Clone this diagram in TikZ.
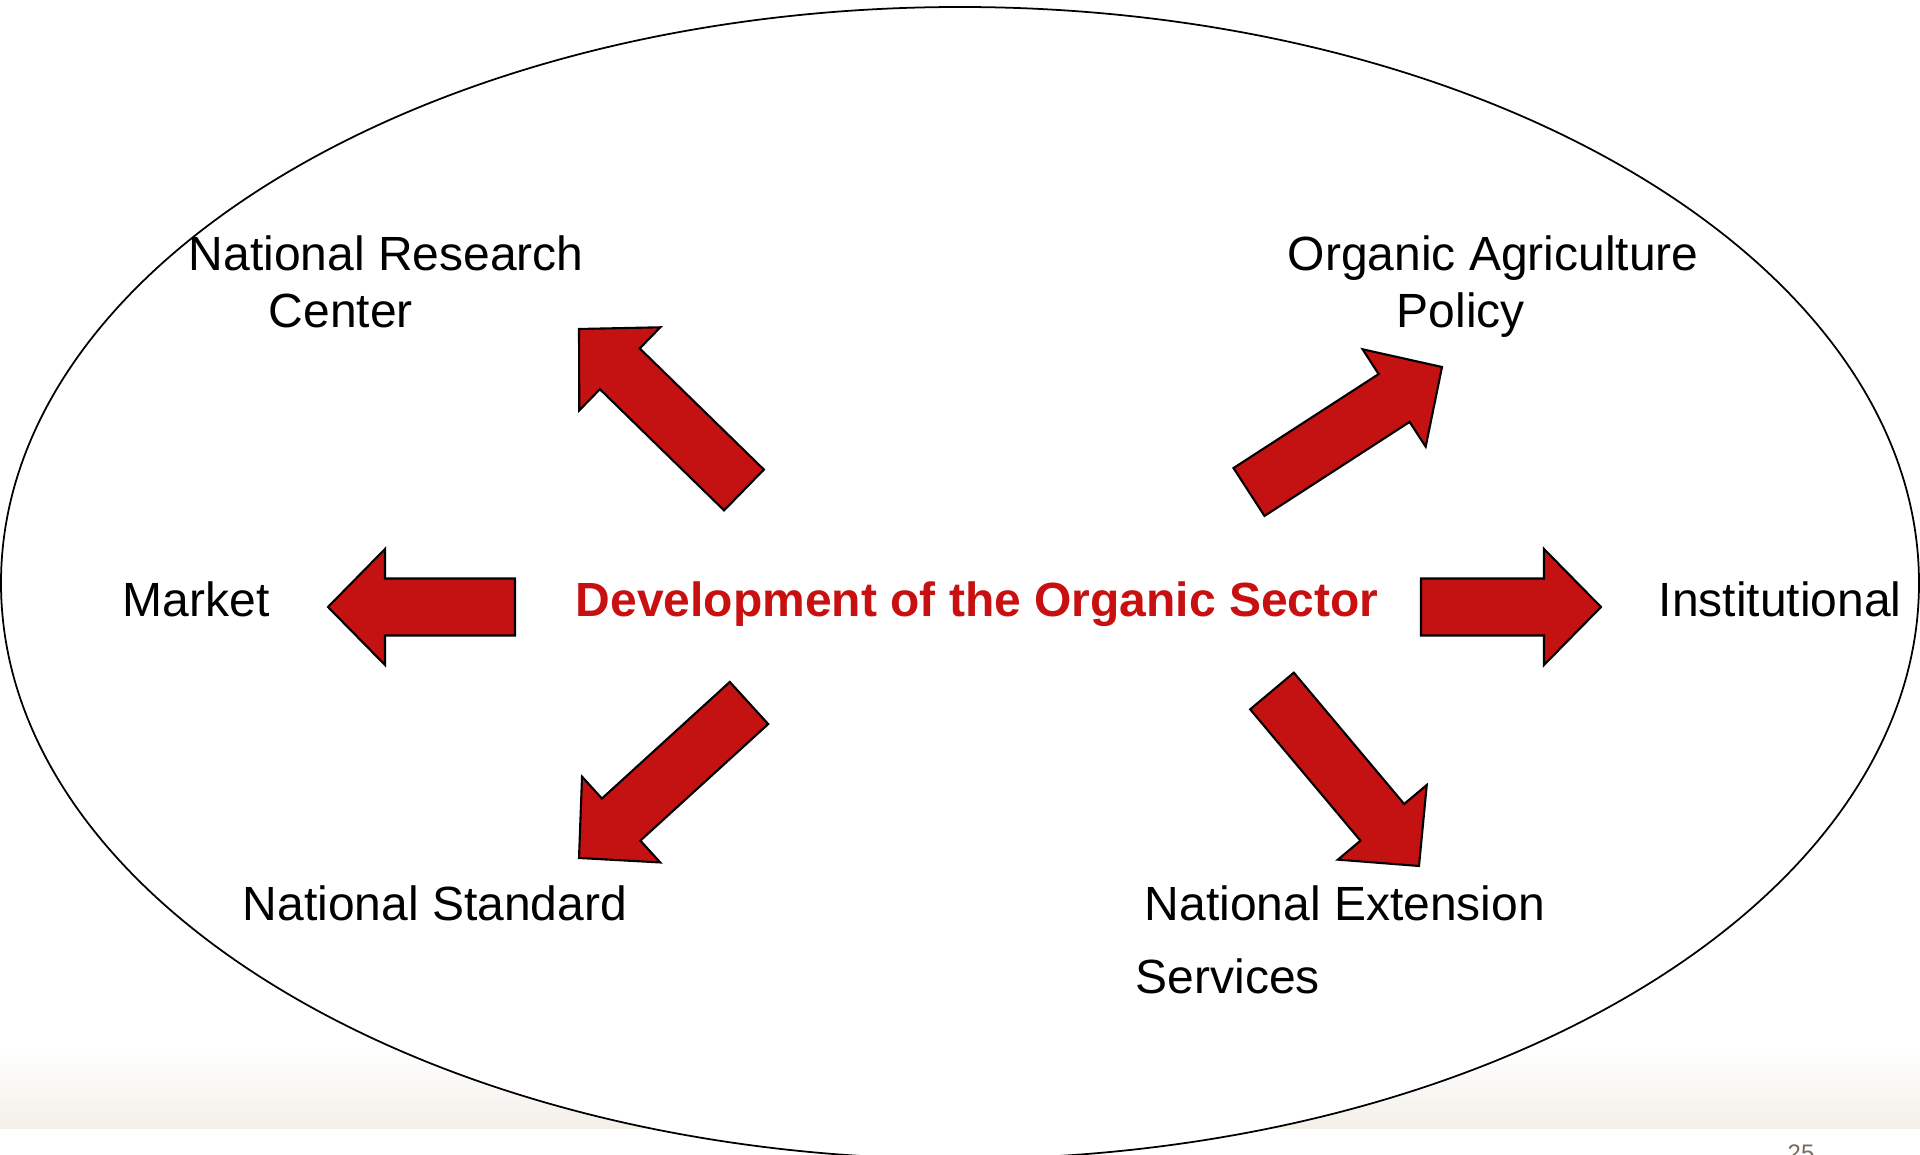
\documentclass[tikz,border=0pt]{standalone}
\usepackage{fontspec}
\setmainfont{Liberation Sans}
\usetikzlibrary{calc}

\definecolor{arrowred}{RGB}{196,17,17}
\definecolor{titlered}{RGB}{200,16,16}
\definecolor{bandbeige}{RGB}{243,239,233}
\definecolor{pagegrey}{RGB}{118,108,92}

% block arrow from a tail coordinate to a tip coordinate
\newcommand\blockarrow[2]{%
  \coordinate (#1-base) at ($(#2)!0.57cm!(#1)$);
  \filldraw[arrowblock]
    ($(#1)!0.285cm!90:(#2)$) --
    ($(#1-base)!0.285cm!-90:(#1)$) --
    ($(#1-base)!0.58cm!-90:(#1)$) --
    (#2) --
    ($(#1-base)!0.58cm!90:(#1)$) --
    ($(#1-base)!0.285cm!90:(#1)$) --
    ($(#1)!0.285cm!-90:(#2)$) -- cycle;
}

\begin{document}
\begin{tikzpicture}[x=0.01cm, y=-0.01cm,
  arrowblock/.style={fill=arrowred, draw=black, line width=0.6pt, line join=miter},
  label/.style={inner sep=0pt, anchor=base west, font=\fontsize{13.65}{16}\selectfont},
  title/.style={label, font=\fontsize{13.65}{16}\selectfont\bfseries, text=titlered}]

\useasboundingbox (0,0) rectangle (1920,1155);
\fill[white] (0,0) rectangle (1920,1155);

% footer band
\shade[top color=white, bottom color=bandbeige] (0,1050) rectangle (1920,1128);

% surrounding ellipse
\filldraw[fill=white, draw=black, line width=0.5pt] (960,583) ellipse [x radius=959, y radius=576];

% labels
\node[title] (sector) at (575,617) {Development of the Organic Sector};
\node[label] (market) at (122,617) {Market};
\node[label] (inst) at (1658,617) {Institutional};
\node[label] (nrc1) at (188,271) {National Research};
\node[label] (nrc2) at (268,328) {Center};
\node[label] (oap1) at (1287,271) {Organic Agriculture};
\node[label] (oap2) at (1396,328) {Policy};
\node[label] (nstd) at (242,921) {National Standard};
\node[label] (nes1) at (1144,921) {National Extension};
\node[label] (nes2) at (1135,993) {Services};
\node[inner sep=0pt, anchor=base west, font=\fontsize{6.8}{8}\selectfont, text=pagegrey] (pageno) at (1787,1162) {25};

% arrow ends
\coordinate (nw) at (744,490);   \coordinate (nwtip) at (579,329);
\coordinate (ne) at (1249,492);  \coordinate (netip) at (1442,367);
\coordinate (sw) at (749,703);   \coordinate (swtip) at (579,858);
\coordinate (se) at (1272,691);  \coordinate (setip) at (1419,866);
\coordinate (w) at (515,607);    \coordinate (wtip) at (328,607);
\coordinate (e) at (1421,607);   \coordinate (etip) at (1601,607);

\blockarrow{nw}{nwtip}
\blockarrow{ne}{netip}
\blockarrow{sw}{swtip}
\blockarrow{se}{setip}
\blockarrow{w}{wtip}
\blockarrow{e}{etip}

\end{tikzpicture}
\end{document}
